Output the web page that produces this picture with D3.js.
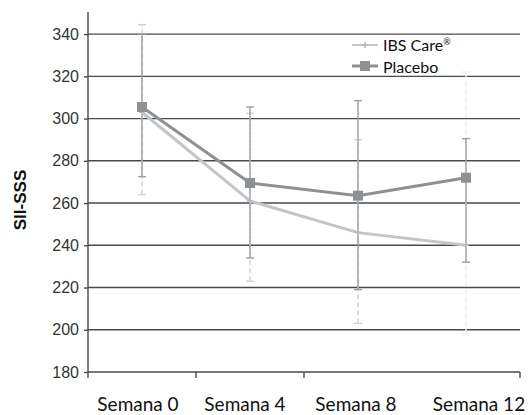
<!DOCTYPE html>
<html><head><meta charset="utf-8">
<script src="https://cdn.jsdelivr.net/npm/d3@7"></script>
<style>body{margin:0;background:#fff}svg{display:block}</style>
</head><body>
<svg id="c" width="528" height="415"></svg>
<script>
const categories = ["Semana 0", "Semana 4", "Semana 8", "Semana 12"];
const yTicks = [180, 200, 220, 240, 260, 280, 300, 320, 340];
const ibsMean = [303, 261, 246, 240];
const ibsLow = [264, 223, 203, 198];
const ibsHigh = [344.5, 302.5, 290, 322];
const placeboMean = [305.5, 269.5, 263.5, 272];
const placeboLow = [272.5, 234, 219, 232];
const placeboHigh = [340, 305.5, 308.5, 290.5];
const seriesNames = ["IBS Care", "Placebo"];

const svg = d3.select("#c");
const L = 88, R = 520, T = 13, B = 372;
const labelShift = [-4, -5, -2, 13];
const x = d3.scaleBand().domain(categories).range([L, R]);
const y = d3.scaleLinear().domain([180, 350]).range([B, T]);
const cx = d => x(d) + x.bandwidth() / 2;

// gridlines
svg.append("g").selectAll("line").data(yTicks.filter(v => v > 180)).join("line")
  .attr("x1", L).attr("x2", R).attr("y1", d => y(d)).attr("y2", d => y(d))
  .attr("stroke", "#4a4a4a").attr("stroke-width", 1.4);

// y axis
const ya = svg.append("g").attr("transform", `translate(${L},0)`)
  .call(d3.axisLeft(y).tickValues(yTicks).tickSize(4).tickPadding(5).tickSizeOuter(0));
ya.select(".domain").attr("stroke", "#4a4a4a").attr("stroke-width", 1.4).attr("d", `M0,${T - 1}V${B}`);
ya.selectAll(".tick line").attr("stroke", "#4a4a4a").attr("stroke-width", 1.4);
ya.selectAll(".tick text").attr("font-family", "Liberation Sans, Arial, sans-serif")
  .attr("font-size", 16).attr("fill", "#333");

// x axis
const xa = svg.append("g").attr("transform", `translate(0,${B})`);
xa.append("line").attr("x1", L).attr("x2", R).attr("stroke", "#4a4a4a").attr("stroke-width", 1.4);
const bounds = [0, 1, 2, 4].map(i => L + i * x.bandwidth());
xa.selectAll("line.t").data(bounds).join("line").attr("class", "t")
  .attr("x1", d => d).attr("x2", d => d).attr("y1", 0).attr("y2", 6)
  .attr("stroke", "#4a4a4a").attr("stroke-width", 1.4);
xa.selectAll("text").data(categories).join("text")
  .attr("x", (d, i) => cx(d) + labelShift[i]).attr("y", 39).attr("text-anchor", "middle")
  .attr("font-family", "Lato, sans-serif").attr("font-size", 19).attr("fill", "#111").text(d => d);

// y title
svg.append("text").attr("transform", "translate(26,200) rotate(-90)")
  .attr("text-anchor", "middle").attr("font-family", "Liberation Sans, Arial, sans-serif")
  .attr("font-weight", "bold").attr("font-size", 17).attr("fill", "#111").text("SII-SSS");

// error bars
function errBars(low, high, colors, dash) {
  const g = svg.append("g");
  categories.forEach((c, i) => {
    const px = cx(c);
    g.append("line").attr("x1", px).attr("x2", px).attr("y1", y(low[i])).attr("y2", y(high[i]))
      .attr("stroke", colors[i]).attr("stroke-width", 1.4).attr("stroke-dasharray", dash);
    [low[i], high[i]].forEach(v => g.append("line").attr("x1", px - 4).attr("x2", px + 4)
      .attr("y1", y(v)).attr("y2", y(v)).attr("stroke", colors[i]).attr("stroke-width", 1.4));
  });
}
errBars(ibsLow, ibsHigh, ["#cfd2d5", "#cfd2d5", "#cfd2d5", "#eceef0"], "5,3");
errBars(placeboLow, placeboHigh, ["#9a9ea2", "#9a9ea2", "#9a9ea2", "#9a9ea2"], null);

const line = d3.line().x((d, i) => cx(categories[i])).y(d => y(d));
// IBS line
svg.append("path").datum(ibsMean).attr("d", line).attr("fill", "none")
  .attr("stroke", "#c2c6ca").attr("stroke-width", 3);
svg.append("g").selectAll("path").data(ibsMean).join("path")
  .attr("d", (d, i) => `M${cx(categories[i]) - 3},${y(d)}h6M${cx(categories[i])},${y(d) - 3}v6`)
  .attr("stroke", "#b8bcc0").attr("stroke-width", 1.5);
// Placebo line
svg.append("path").datum(placeboMean).attr("d", line).attr("fill", "none")
  .attr("stroke", "#8e9194").attr("stroke-width", 3);
svg.append("g").selectAll("rect").data(placeboMean).join("rect")
  .attr("x", (d, i) => cx(categories[i]) - 5).attr("y", d => y(d) - 5)
  .attr("width", 10).attr("height", 10).attr("fill", "#8e9194");

// legend
const lg = svg.append("g");
lg.append("line").attr("x1", 352).attr("x2", 378).attr("y1", 45).attr("y2", 45)
  .attr("stroke", "#c2c6ca").attr("stroke-width", 2);
lg.append("path").attr("d", "M362,45h6M365,42v6").attr("stroke", "#b8bcc0").attr("stroke-width", 1.5);
lg.append("line").attr("x1", 352).attr("x2", 378).attr("y1", 66).attr("y2", 66)
  .attr("stroke", "#8e9194").attr("stroke-width", 3);
lg.append("rect").attr("x", 360).attr("y", 61).attr("width", 10).attr("height", 10).attr("fill", "#8e9194");
const t1 = lg.append("text").attr("x", 383).attr("y", 51).attr("font-family", "Lato, sans-serif")
  .attr("font-size", 16).attr("fill", "#111");
t1.append("tspan").text(seriesNames[0]);
t1.append("tspan").attr("font-size", 9).attr("dy", -6).text("®");
lg.append("text").attr("x", 383).attr("y", 73).attr("font-family", "Lato, sans-serif")
  .attr("font-size", 16).attr("fill", "#111").text(seriesNames[1]);
</script>
</body></html>
